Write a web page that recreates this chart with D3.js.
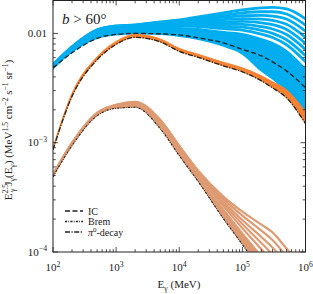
<!DOCTYPE html>
<html>
<head>
<meta charset="utf-8">
<script src="https://cdn.jsdelivr.net/npm/d3@7"></script>
<style>
  body { margin: 0; background: #fff; }
  svg { display: block; }
  text { font-family: "Liberation Serif", "DejaVu Serif", serif; fill: #222; }
</style>
</head>
<body>
<div id="chart"></div>
<script>
// ---- data ----
const energies = [100, 200, 500, 1e3, 2e3, 5e3, 1e4, 2e4, 5e4, 1e5, 2e5, 3e5, 5e5, 1e6];

// IC: reference curve + model band
const icDashed   = [0.00484, 0.00664, 0.00900, 0.00979, 0.01000, 0.00990, 0.00969, 0.00910, 0.00819, 0.00714, 0.00623, 0.00549, 0.00454, 0.00318];
const icLower    = [0.00464, 0.00664, 0.00891, 0.00959, 0.00979, 0.00969, 0.00929, 0.00872, 0.00753, 0.00636, 0.00445, 0.00376, 0.00292, 0.00192];
const icDenseTop = [0.00505, 0.00737, 0.01054, 0.01123, 0.01147, 0.01171, 0.01147, 0.01123, 0.01054, 0.01011, 0.00910, 0.00837, 0.00707, 0.00484];
const icModels = [
  [0.00516, 0.00753, 0.01077, 0.01171, 0.01196, 0.01274, 0.01328, 0.01415, 0.01539, 0.01639, 0.01709, 0.01728, 0.01674, 0.01357],
  [0.00515, 0.00751, 0.01074, 0.01164, 0.01188, 0.01260, 0.01304, 0.01373, 0.01466, 0.01542, 0.01578, 0.01578, 0.01504, 0.01193],
  [0.00513, 0.00748, 0.01070, 0.01159, 0.01183, 0.01247, 0.01279, 0.01339, 0.01400, 0.01451, 0.01460, 0.01442, 0.01353, 0.01048],
  [0.00512, 0.00747, 0.01068, 0.01152, 0.01176, 0.01234, 0.01258, 0.01298, 0.01339, 0.01368, 0.01353, 0.01317, 0.01211, 0.00921],
  [0.00510, 0.00745, 0.01065, 0.01147, 0.01171, 0.01221, 0.01234, 0.01260, 0.01274, 0.01287, 0.01247, 0.01202, 0.01088, 0.00811],
  [0.00509, 0.00744, 0.01063, 0.01139, 0.01164, 0.01209, 0.01211, 0.01224, 0.01214, 0.01211, 0.01152, 0.01097, 0.00977, 0.00713],
  [0.00507, 0.00740, 0.01059, 0.01135, 0.01159, 0.01196, 0.01188, 0.01188, 0.01159, 0.01139, 0.01065, 0.01002, 0.00876, 0.00626],
  [0.00506, 0.00739, 0.01056, 0.01127, 0.01152, 0.01183, 0.01169, 0.01156, 0.01104, 0.01074, 0.00984, 0.00916, 0.00787, 0.00551]
];

// pi0-decay
const piLine  = [0.000863, 0.002653, 0.005730, 0.007936, 0.009194, 0.008365, 0.006850, 0.006039, 0.005051, 0.004452, 0.003683, 0.003179, 0.002576, 0.001491];
const piUpper = [0.000900, 0.002826, 0.006102, 0.008453, 0.009793, 0.008909, 0.007296, 0.006432, 0.005436, 0.004843, 0.004091, 0.003606, 0.003048, 0.001919];

// Bremsstrahlung
const bremLine     = [0.000489, 0.000939, 0.001765, 0.002065, 0.002109, 0.001342, 0.000761, 0.000440, 0.000202, 0.0001171, 0.0000664, 0.0000484, 0.0000331, 0.0000196];
const bremDenseTop = [0.000500, 0.000969, 0.001821, 0.002154, 0.002247, 0.001460, 0.000845, 0.000489, 0.000250, 0.000151, 0.0000929, 0.0000693, 0.0000474, 0.0000286];
const bremModels = [
  [0.000510, 0.001000, 0.001879, 0.002223, 0.002368, 0.001622, 0.000939, 0.000555, 0.000321, 0.000234, 0.000178, 0.000151, 0.0001077, 0.0000693],
  [0.000508, 0.000993, 0.001867, 0.002209, 0.002343, 0.001588, 0.000919, 0.000541, 0.000306, 0.000215, 0.000157, 0.000129, 0.0000914, 0.0000580],
  [0.000506, 0.000987, 0.001855, 0.002195, 0.002318, 0.001555, 0.000900, 0.000528, 0.000290, 0.000196, 0.000137, 0.000110, 0.0000776, 0.0000486],
  [0.000504, 0.000981, 0.001843, 0.002181, 0.002294, 0.001522, 0.000881, 0.000515, 0.000276, 0.000180, 0.000121, 0.0000945, 0.0000658, 0.0000408],
  [0.000502, 0.000975, 0.001832, 0.002168, 0.002270, 0.001491, 0.000863, 0.000502, 0.000263, 0.000165, 0.000106, 0.0000809, 0.0000559, 0.0000341]
];

const xTickValues = [1e2, 1e3, 1e4, 1e5, 1e6];
const xTickExp = ["2", "3", "4", "5", "6"];
const yTickValues = [1e-4, 1e-3, 1e-2];
const yTickText = [["10", "\u22124"], ["10", "\u22123"], ["0.01", ""]];
const legendItems = [
  { key: "IC", dash: "5,2.5" },
  { key: "Brem", dash: "2.2,1.2,0.8,1.2" },
  { key: "pi0", dash: "5,1.5,1.2,1.5" }
];

// ---- layout ----
const W = 313, H = 294;
const L = 53, R = 305.5, T = 0.5, B = 252;
const BLUE = "#00aeef", ORANGE = "#f58232", TAN = "#de9b73";

const svg = d3.select("#chart").append("svg").attr("width", W).attr("height", H);
const x = d3.scaleLog().domain([1e2, 1e6]).range([L, R]);
const y = d3.scaleLog().domain([1e-4, 0.02]).range([B, T]);

svg.append("clipPath").attr("id", "clip")
  .append("rect").attr("x", L).attr("y", T).attr("width", R - L).attr("height", B - T);
const plot = svg.append("g").attr("clip-path", "url(#clip)");

const curve = d3.curveMonotoneX;
const line = d3.line().curve(curve).x((d, i) => x(energies[i])).y(d => y(d));
function band(lo, hi) {
  return d3.area().curve(curve).x((d, i) => x(energies[i]))
    .y0((d, i) => y(lo[i])).y1((d, i) => y(hi[i]))(lo);
}

// IC band
plot.append("path").attr("d", band(icLower, icDenseTop)).attr("fill", BLUE);
icModels.forEach(m => plot.append("path").attr("d", line(m))
  .attr("fill", "none").attr("stroke", BLUE).attr("stroke-width", 2.8));

// Brem band
plot.append("path").attr("d", band(bremLine, bremDenseTop)).attr("fill", TAN)
  .attr("stroke", TAN).attr("stroke-width", 1);
bremModels.forEach(m => plot.append("path").attr("d", line(m))
  .attr("fill", "none").attr("stroke", TAN).attr("stroke-width", 2.2));

// pi0 band
plot.append("path").attr("d", band(piLine, piUpper)).attr("fill", ORANGE)
  .attr("stroke", ORANGE).attr("stroke-width", 1);

// reference curves
plot.append("path").attr("d", line(icDashed)).attr("fill", "none")
  .attr("stroke", "#222").attr("stroke-width", 1.3).attr("stroke-dasharray", legendItems[0].dash);
plot.append("path").attr("d", line(bremLine)).attr("fill", "none")
  .attr("stroke", "#222").attr("stroke-width", 1.1).attr("stroke-dasharray", legendItems[1].dash);
plot.append("path").attr("d", line(piLine)).attr("fill", "none")
  .attr("stroke", "#222").attr("stroke-width", 1.3).attr("stroke-dasharray", legendItems[2].dash);

// ---- frame and ticks ----
svg.append("rect").attr("x", L).attr("y", T).attr("width", R - L).attr("height", B - T)
  .attr("fill", "none").attr("stroke", "#222").attr("stroke-width", 1);

const isMajor = v => Math.abs(Math.log10(v) - Math.round(Math.log10(v))) < 1e-6;
const ticks = svg.append("g").attr("stroke", "#222").attr("stroke-width", 0.8);
x.ticks().forEach(v => {
  const len = isMajor(v) ? 5 : 2.8, px = x(v);
  ticks.append("line").attr("x1", px).attr("x2", px).attr("y1", B).attr("y2", B - len);
  ticks.append("line").attr("x1", px).attr("x2", px).attr("y1", T).attr("y2", T + len);
});
y.ticks().forEach(v => {
  const len = isMajor(v) ? 5 : 2.8, py = y(v);
  ticks.append("line").attr("x1", L).attr("x2", L + len).attr("y1", py).attr("y2", py);
  ticks.append("line").attr("x1", R).attr("x2", R - len).attr("y1", py).attr("y2", py);
});

// rich text helper: parts = [[text, "sup"|"sub"|null, dx, italic]]
function rich(sel, parts, size) {
  let shift = 0;
  parts.forEach(p => {
    const target = p[1] === "sup" ? -size * 0.4 : p[1] === "sub" ? size * 0.25 : 0;
    const ts = sel.append("tspan").attr("dy", target - shift).text(p[0]);
    if (p[1]) ts.style("font-size", (size * 0.7) + "px");
    if (p[2]) ts.attr("dx", p[2]);
    if (p[3]) ts.style("font-style", "italic");
    shift = target;
  });
}

// x tick labels
xTickValues.forEach((v, i) => {
  const t = svg.append("text").attr("x", x(v)).attr("y", 271)
    .attr("text-anchor", "middle").style("font-size", "11px");
  rich(t, [["10", null], [xTickExp[i], "sup"]], 11);
});

// y tick labels
yTickValues.forEach((v, i) => {
  const t = svg.append("text").attr("x", 47).attr("y", y(v) + 3.5)
    .attr("text-anchor", "end").style("font-size", "11px");
  const parts = [[yTickText[i][0], null]];
  if (yTickText[i][1]) parts.push([yTickText[i][1], "sup"]);
  rich(t, parts, 11);
});

// axis titles
const xt = svg.append("text").attr("x", 179).attr("y", 288)
  .attr("text-anchor", "middle").style("font-size", "11px");
rich(xt, [["E", null], ["\u03b3", "sub"], [" (MeV)", null]], 11);

const yt = svg.append("text").attr("transform", "translate(12,130) rotate(-90)")
  .attr("text-anchor", "middle").style("font-size", "11px");
rich(yt, [["E", null], ["2.5", "sup"], ["\u03b3", "sub", -8], [" J", null], ["\u03b3", "sub"],
  ["(E", null], ["\u03b3", "sub"], [") (MeV", null], ["1.5", "sup"], [" cm", null], ["\u22122", "sup"],
  [" s", null], ["\u22121", "sup"], [" sr", null], ["\u22121", "sup"], [")", null]], 11);

// panel title
const title = svg.append("text").attr("x", 62).attr("y", 24).style("font-size", "15px");
title.append("tspan").style("font-style", "italic").text("b");
title.append("tspan").text(" > 60\u00b0");

// legend
const legendLabels = [[["IC", null]], [["Brem", null]], [["\u03c0", null, 0, true], ["0", "sup"], ["-decay", null]]];
legendItems.forEach((it, i) => {
  const ly = 211 + i * 10.5;
  svg.append("line").attr("x1", 65).attr("x2", 83).attr("y1", ly).attr("y2", ly)
    .attr("stroke", "#222").attr("stroke-width", 1.3).attr("stroke-dasharray", it.dash);
  const t = svg.append("text").attr("x", 88).attr("y", ly + 3.5).style("font-size", "10px");
  rich(t, legendLabels[i], 10);
});
</script>
</body>
</html>
